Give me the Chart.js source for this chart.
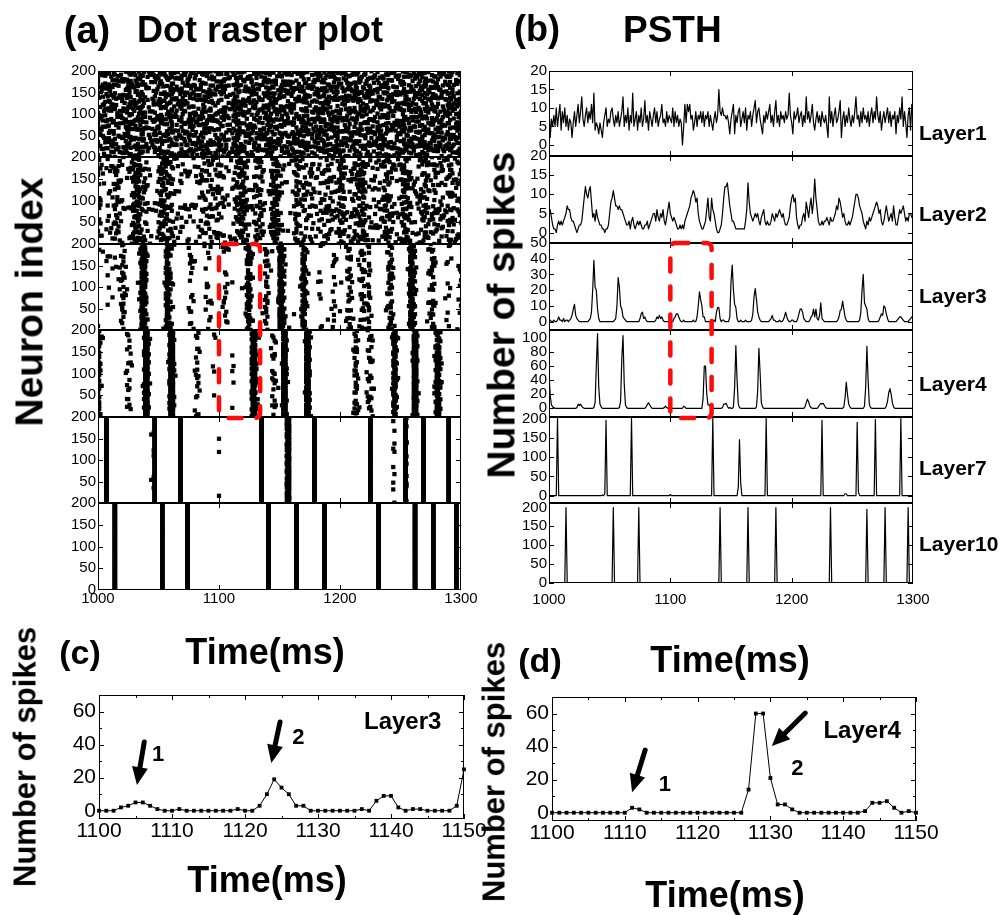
<!DOCTYPE html>
<html>
<head>
<meta charset="utf-8">
<script src="https://cdn.jsdelivr.net/npm/chart.js@4.4.1/dist/chart.umd.min.js"></script>
<style>
  body { margin: 0; background: #fff; }
  #fig { position: relative; width: 1004px; height: 915px; overflow: hidden; font-family: 'Liberation Sans', Arial, sans-serif; }
  #fig canvas { position: absolute; }
  .txt { position: absolute; white-space: nowrap; line-height: 1; font-weight: bold; color: #000; }
</style>
</head>
<body>
<div id="fig"></div>
<script>
// time window (ms), 1 ms bins
const t0 = 1000, t1 = 1300;
const layerNames = ['Layer1', 'Layer2', 'Layer3', 'Layer4', 'Layer7', 'Layer10'];

// PSTH counts, one value per ms from 1000 to 1300
const layer1 = [
  10, 2, 7, 5, 8, 5, 10, 5, 8, 11,   4, 9, 6, 10, 5, 8, 4, 7, 6, 2,
  6, 9, 5, 8, 11, 6, 9, 13, 7, 5,    8, 10, 6, 9, 7, 11, 6, 14, 4, 6,
  5, 3, 6, 4, 2, 6, 8, 10, 5, 7,     6, 9, 10, 7, 5, 8, 6, 9, 5, 7,
  9, 13, 5, 8, 6, 10, 4, 8, 6, 14,   5, 7, 9, 4, 8, 6, 10, 5, 7, 12,
  6, 8, 4, 9, 7, 5, 8, 10, 6, 9,     5, 7, 8, 11, 6, 7, 5, 9, 6, 8,
  7, 6, 10, 5, 9, 6, 8, 5, 7, 6,     0, 5, 11, 6, 11, 9, 11, 7, 8, 4,
  6, 9, 5, 8, 7, 9, 6, 9, 5, 8,      7, 9, 5, 8, 6, 4, 7, 9, 6, 8,
  15, 9, 8, 10, 8, 8, 7, 8, 6, 3,    7, 9, 11, 3, 8, 6, 9, 10, 5, 7,
  9, 6, 10, 4, 8, 7, 9, 5, 8, 10,    12, 6, 9, 10, 7, 5, 3, 8, 6, 9,
  7, 9, 11, 6, 8, 5, 9, 12, 6, 8,    5, 9, 7, 8, 6, 9, 7, 8, 14, 8,
  6, 3, 9, 7, 8, 10, 6, 8, 9, 5,     8, 6, 13, 7, 9, 6, 8, 11, 6, 4,
  7, 9, 6, 8, 5, 9, 7, 6, 8, 5,      2, 13, 6, 9, 5, 8, 10, 6, 7, 9,
  12, 2, 7, 9, 5, 8, 6, 10, 7, 5,    8, 6, 9, 13, 7, 8, 5, 9, 6, 10,
  7, 8, 6, 9, 5, 8, 10, 6, 9, 7,     13, 8, 6, 9, 4, 7, 9, 6, 8, 10,
  6, 9, 5, 8, 7, 9, 3, 8, 6, 10,     7, 13, 5, 9, 6, 2, 8, 10, 4, 11,
  10
];
const layer2 = [
  5, 6, 4, 2, 1, 1, 0, 2, 3, 2,      3, 2, 3, 4, 5, 7, 6, 6, 4, 3,
  3, 2, 1, 0, 1, 2, 2, 3, 6, 9,      12, 10, 9, 11, 12, 8, 4, 5, 3, 6,
  4, 3, 2, 2, 1, 1, 0, 1, 1, 2,      5, 8, 9, 11, 9, 7, 7, 6, 7, 6,
  6, 5, 4, 3, 2, 2, 3, 1, 3, 4,      2, 1, 2, 3, 2, 3, 2, 1, 1, 2,
  2, 3, 1, 2, 3, 4, 5, 5, 3, 6,      4, 3, 5, 4, 6, 3, 2, 4, 6, 8,
  5, 4, 3, 4, 3, 2, 1, 1, 2, 1,      2, 1, 3, 4, 5, 6, 7, 9, 10, 11,
  10, 8, 9, 5, 3, 2, 1, 1, 2, 3,     6, 9, 4, 3, 9, 6, 5, 3, 1, 0,
  0, 1, 2, 5, 9, 12, 12, 13, 10, 7,  5, 3, 3, 2, 1, 1, 1, 1, 1, 1,
  1, 1, 3, 6, 13, 8, 5, 4, 3, 4,     5, 4, 5, 3, 2, 4, 5, 6, 3, 2,
  3, 2, 2, 3, 5, 4, 3, 5, 4, 5,      6, 5, 4, 5, 3, 2, 2, 3, 4, 7,
  9, 10, 8, 9, 4, 2, 1, 2, 2, 4,     5, 3, 8, 6, 4, 7, 9, 5, 8, 14,
  9, 6, 3, 2, 2, 3, 2, 3, 3, 4,      3, 2, 4, 3, 3, 4, 5, 7, 6, 9,
  8, 6, 4, 5, 3, 2, 2, 3, 2, 3,      4, 6, 8, 10, 10, 9, 7, 6, 5, 3,
  2, 1, 3, 2, 4, 3, 4, 5, 6, 7,      8, 7, 5, 6, 3, 2, 3, 5, 7, 5,
  3, 4, 5, 3, 7, 4, 2, 2, 4, 6,      5, 6, 7, 5, 3, 4, 3, 5, 5, 4,
  4
];
// sparse layers: [time, count], every other bin is 0
const layer3Bins = [
  [1000, 1], [1001, 1], [1004, 1], [1007, 1], [1008, 3], [1009, 1], [1010, 1], [1012, 2], [1014, 1], [1015, 1],
  [1017, 1], [1018, 2], [1019, 4], [1020, 8], [1021, 11], [1022, 4], [1023, 2], [1024, 1],
  [1033, 1], [1034, 2], [1035, 6], [1036, 20], [1037, 39], [1038, 22], [1039, 20], [1040, 8], [1041, 2],
  [1054, 1], [1055, 2], [1056, 10], [1057, 28], [1058, 22], [1059, 10], [1060, 8], [1061, 3], [1062, 2], [1063, 1],
  [1075, 2], [1076, 5], [1077, 6], [1078, 2], [1079, 3], [1080, 1],
  [1088, 1], [1089, 3], [1090, 2], [1091, 4], [1092, 2], [1093, 3], [1094, 1],
  [1103, 2], [1104, 3], [1105, 5], [1106, 5], [1107, 3], [1108, 1], [1111, 1], [1119, 1],
  [1122, 3], [1123, 10], [1124, 19], [1125, 14], [1126, 10], [1127, 3], [1128, 3],
  [1136, 1], [1138, 6], [1139, 9], [1140, 9], [1141, 2], [1143, 1], [1144, 1], [1149, 3], [1150, 25],
  [1151, 36], [1152, 20], [1153, 11], [1154, 9], [1155, 2], [1158, 1], [1162, 1],
  [1167, 1], [1168, 5], [1169, 16], [1170, 21], [1171, 14], [1172, 6], [1173, 3], [1174, 1],
  [1182, 1], [1183, 2], [1184, 4], [1185, 1], [1186, 1], [1190, 1],
  [1193, 1], [1194, 3], [1195, 6], [1196, 3], [1197, 1], [1200, 1], [1201, 1],
  [1205, 2], [1206, 5], [1207, 8], [1208, 8], [1209, 6], [1210, 2], [1211, 1],
  [1215, 1], [1216, 3], [1217, 4], [1218, 8], [1219, 3], [1220, 8], [1221, 2], [1222, 1], [1223, 4], [1224, 12], [1225, 2], [1226, 1],
  [1238, 1], [1239, 3], [1240, 7], [1241, 8], [1242, 13], [1243, 8], [1244, 3], [1245, 1],
  [1256, 1], [1257, 6], [1258, 20], [1259, 30], [1260, 12], [1261, 10], [1262, 8], [1263, 2],
  [1272, 1], [1273, 3], [1274, 5], [1275, 4], [1276, 10], [1277, 9], [1278, 5], [1279, 2],
  [1287, 1], [1288, 2], [1289, 3], [1290, 3], [1291, 2], [1292, 1], [1297, 1], [1298, 2], [1299, 3], [1300, 3]
];
const layer4Bins = [
  [1000, 50], [1001, 18], [1002, 5], [1003, 2], [1004, 1],
  [1023, 1], [1024, 6], [1025, 4], [1026, 6], [1027, 3], [1028, 1],
  [1037, 1], [1038, 8], [1039, 60], [1040, 106], [1041, 30], [1042, 6], [1043, 2],
  [1058, 1], [1059, 10], [1060, 70], [1061, 103], [1062, 35], [1063, 5], [1064, 1],
  [1080, 2], [1081, 5], [1082, 8], [1083, 5], [1084, 2], [1095, 1], [1096, 3], [1097, 1],
  [1111, 3], [1112, 2],
  [1127, 14], [1128, 60], [1129, 60], [1130, 21], [1131, 5], [1132, 5], [1133, 2],
  [1143, 1], [1144, 6], [1145, 6], [1146, 7], [1147, 3], [1149, 1],
  [1152, 2], [1153, 30], [1154, 89], [1155, 40], [1156, 6], [1157, 1],
  [1171, 2], [1172, 25], [1173, 85], [1174, 50], [1175, 8], [1176, 2],
  [1211, 2], [1212, 8], [1213, 13], [1214, 9], [1215, 3], [1216, 1],
  [1222, 2], [1223, 5], [1224, 7], [1225, 6], [1226, 7], [1227, 4], [1228, 1],
  [1243, 2], [1244, 15], [1245, 37], [1246, 20], [1247, 6], [1248, 2],
  [1260, 3], [1261, 30], [1262, 88], [1263, 40], [1264, 6], [1265, 1],
  [1278, 3], [1279, 10], [1280, 22], [1281, 28], [1282, 20], [1283, 8], [1284, 2]
];
const layer7Bins = [
  [1007, 200], [1044, 2], [1046, 5], [1047, 195], [1068, 200], [1100, 3], [1135, 200],
  [1156, 22], [1157, 145], [1158, 33], [1179, 200], [1225, 195], [1244, 5], [1245, 5],
  [1254, 190], [1255, 10], [1269, 197], [1290, 200]
];
const layer10Bins = [
  [1014, 200], [1053, 200], [1074, 200], [1141, 200], [1164, 200], [1187, 200],
  [1232, 200], [1262, 195], [1277, 200], [1296, 200]
];

// tick labels
const timeTicks = [1000, 1100, 1200, 1300];
const neuronTicks = [50, 100, 150, 200];
const neuronTicksBottom = [0, 50, 100, 150, 200];
const psthTicks = [[0, 5, 10, 15, 20], [0, 5, 10, 15, 20], [0, 10, 20, 30, 40, 50],
                   [0, 20, 40, 60, 80, 100], [0, 50, 100, 150, 200], [0, 50, 100, 150, 200]];
const psthRanges = [[-3, 20], [-2.7, 20], [-5.3, 50], [-12.3, 111], [-18.9, 203.6], [-1.3, 212]];
const zoomTicksX = [1100, 1110, 1120, 1130, 1140, 1150];
const zoomTicksY = [0, 20, 40, 60];
const zoomSpan = [1100, 1150];
const boxSpan = [1100, 1134];

function fromBins(bins) {
  const a = new Array(t1 - t0 + 1).fill(0);
  bins.forEach(([t, n]) => { a[t - t0] = n; });
  return a;
}
const counts = [layer1, layer2, fromBins(layer3Bins), fromBins(layer4Bins), fromBins(layer7Bins), fromBins(layer10Bins)];

// raster: each 1 ms bin puts `count` dots over neurons 0-200, one dot per equal slice;
// the neuron ids cannot be read off the picture, so the spot inside each slice comes from a fixed hash
function slot(a, b, c) {
  let h = (a * 374761393 + b * 668265263 + c * 1274126177) | 0;
  h = Math.imul(h ^ (h >>> 13), 1274126177);
  h ^= h >>> 16;
  return (h >>> 0) / 4294967296;
}
function rasterDots(cnt, li) {
  const pts = [];
  cnt.forEach((n, i) => {
    for (let k = 0; k < n; k++) {
      pts.push({x: t0 + i, y: (k + slot(i, k, li + 1)) * 200 / n});
    }
  });
  return pts;
}

const fig = document.getElementById('fig');
Chart.defaults.font.family = "'Liberation Sans', Arial, sans-serif";
Chart.defaults.color = '#000';

// box with small inward ticks
const framePlugin = {
  id: 'frame',
  afterDatasetsDraw(chart, args, o) {
    const {ctx, chartArea: a, scales: {x, y}} = chart;
    ctx.save();
    ctx.strokeStyle = '#000';
    ctx.lineWidth = 1;
    ctx.strokeRect(a.left + 0.5, a.top + 0.5, a.right - a.left - 1, a.bottom - a.top - 1);
    ctx.beginPath();
    const xt = (vals, len) => (vals || []).forEach(v => {
      const p = Math.round(x.getPixelForValue(v)) + 0.5;
      ctx.moveTo(p, a.bottom); ctx.lineTo(p, a.bottom - len);
      ctx.moveTo(p, a.top); ctx.lineTo(p, a.top + len);
    });
    const yt = (vals, len) => (vals || []).forEach(v => {
      const p = Math.round(y.getPixelForValue(v)) + 0.5;
      ctx.moveTo(a.left, p); ctx.lineTo(a.left + len, p);
      ctx.moveTo(a.right, p); ctx.lineTo(a.right - len, p);
    });
    xt(o.xMajor, 5); xt(o.xMinor, 3);
    yt(o.yMajor, 5); yt(o.yMinor, 3);
    ctx.stroke();
    ctx.restore();
  }
};

// arrows and labels inside the zoomed panels, placed in data units
const notesPlugin = {
  id: 'notes',
  afterDatasetsDraw(chart, args, o) {
    if (!o.arrows) return;
    const {ctx, scales: {x, y}} = chart;
    ctx.save();
    ctx.fillStyle = '#000';
    ctx.strokeStyle = '#000';
    o.arrows.forEach(([xa, ya, xb, yb]) => {
      const x0 = x.getPixelForValue(xa), y0 = y.getPixelForValue(ya);
      const x1 = x.getPixelForValue(xb), y1 = y.getPixelForValue(yb);
      const L = Math.hypot(x1 - x0, y1 - y0), ux = (x1 - x0) / L, uy = (y1 - y0) / L;
      const hl = 18, hw = 8;
      ctx.lineWidth = 5;
      ctx.lineCap = 'round';
      ctx.beginPath();
      ctx.moveTo(x0, y0);
      ctx.lineTo(x1 - ux * hl * 0.8, y1 - uy * hl * 0.8);
      ctx.stroke();
      ctx.beginPath();
      ctx.moveTo(x1, y1);
      ctx.lineTo(x1 - ux * hl - uy * hw, y1 - uy * hl + ux * hw);
      ctx.lineTo(x1 - ux * hl + uy * hw, y1 - uy * hl - ux * hw);
      ctx.closePath();
      ctx.fill();
    });
    ctx.textAlign = 'center';
    ctx.textBaseline = 'middle';
    o.marks.forEach(([s, xv, yv, size]) => {
      ctx.font = "bold " + size + "px 'Liberation Sans', Arial, sans-serif";
      ctx.fillText(s, x.getPixelForValue(xv), y.getPixelForValue(yv));
    });
    ctx.restore();
  }
};

const YW = 70, PAD = 16, RP = 30;
function makePanel(area, c) {
  const XH = c.showX ? c.xh : 0;
  const cv = document.createElement('canvas');
  cv.width = YW + area.width + RP;
  cv.height = PAD + area.height + XH + PAD;
  cv.style.left = (area.left - YW) + 'px';
  cv.style.top = (area.top - PAD) + 'px';
  fig.appendChild(cv);
  const font = {size: c.font};
  const chart = new Chart(cv, {
    type: 'scatter',
    data: {datasets: c.datasets},
    options: {
      responsive: false,
      animation: false,
      events: [],
      layout: {padding: {left: 0, right: RP, top: PAD, bottom: PAD}},
      plugins: {legend: {display: false}, tooltip: {enabled: false}, frame: c.frame, notes: c.notes || {}},
      scales: {
        x: {
          type: 'linear', min: c.x[0], max: c.x[1], display: c.showX,
          grid: {display: false, drawTicks: false}, border: {display: false},
          ticks: {font, padding: c.xPad, maxRotation: 0, autoSkip: false, callback: v => String(v)},
          afterBuildTicks: s => { s.ticks = c.xTicks.map(v => ({value: v})); },
          afterFit: s => { s.height = XH; s.paddingLeft = 0; s.paddingRight = 0; }
        },
        y: {
          type: 'linear', min: c.y[0], max: c.y[1],
          grid: {display: false, drawTicks: false}, border: {display: false},
          ticks: {font, padding: c.yPad, autoSkip: false, callback: v => String(v)},
          afterBuildTicks: s => { s.ticks = c.yTicks.map(v => ({value: v})); },
          afterFit: s => { s.width = YW; s.paddingTop = 0; s.paddingBottom = 0; }
        }
      }
    },
    plugins: [framePlugin, notesPlugin]
  });
  chart.$off = {left: area.left - YW, top: area.top - PAD};
  return chart;
}

// panel geometry
const rasterTops = [71, 157, 244, 330, 417, 503, 590];
const psthTops = [71, 156, 243, 330, 417, 503, 583];

const rasterCharts = counts.map((cnt, li) => {
  const last = li === counts.length - 1;
  return makePanel({left: 98, top: rasterTops[li], width: 363, height: rasterTops[li + 1] - rasterTops[li]}, {
    x: [t0, t1], xTicks: timeTicks, showX: last, xh: 26, xPad: 0,
    y: [0, 200], yTicks: last ? neuronTicksBottom : neuronTicks, yPad: 2, font: 15,
    frame: {xMajor: [1100, 1200], yMajor: [50, 100, 150]},
    datasets: [{
      data: rasterDots(cnt, li), pointStyle: 'rect', pointRadius: 3.0,
      pointBackgroundColor: '#000', pointBorderWidth: 0, clip: 0
    }]
  });
});

const psthCharts = counts.map((cnt, li) => {
  const last = li === counts.length - 1;
  const tk = psthTicks[li];
  return makePanel({left: 549, top: psthTops[li], width: 364, height: psthTops[li + 1] - psthTops[li]}, {
    x: [t0, t1], xTicks: timeTicks, showX: last, xh: 30, xPad: 8,
    y: psthRanges[li], yTicks: tk, yPad: 2, font: 15,
    frame: {xMajor: [1100, 1200], yMajor: tk.slice(0, -1)},
    datasets: [{
      data: cnt.map((n, i) => ({x: t0 + i, y: n})), showLine: true,
      borderColor: '#000', borderWidth: 1.2, borderJoinStyle: 'round', pointRadius: 0, clip: 0
    }]
  });
});

// zoomed PSTH of layers 3 and 4, 1100-1150 ms
const zoomNotes = [
  {arrows: [[1106.2, 41.6, 1105.2, 15.5], [1124.8, 53.7, 1123.6, 28.9]],
   marks: [['1', 1108.1, 33.7, 22], ['2', 1127.3, 44, 22], ['Layer3', 1141.6, 53.7, 24]]},
  {arrows: [[1112.8, 37.9, 1111.0, 12.4], [1134.8, 60.3, 1130.2, 40.3]],
   marks: [['1', 1115.5, 16.7, 22], ['2', 1133.7, 26.4, 22], ['Layer4', 1142.6, 49.4, 24]]}
];
const zoomAreas = [{left: 99, top: 695, width: 365, height: 124}, {left: 552, top: 697, width: 364, height: 124}];
[2, 3].forEach((li, j) => {
  const pts = [];
  for (let t = zoomSpan[0]; t <= zoomSpan[1]; t++) pts.push({x: t, y: counts[li][t - t0]});
  makePanel(zoomAreas[j], {
    x: zoomSpan, xTicks: zoomTicksX, showX: true, xh: 30, xPad: 0,
    y: [-5, 70], yTicks: zoomTicksY, yPad: 3, font: 21,
    frame: {xMajor: zoomTicksX, xMinor: [1105, 1115, 1125, 1135, 1145], yMajor: [20, 40, 60], yMinor: [10, 30, 50]},
    notes: zoomNotes[j],
    datasets: [{
      data: pts, showLine: true, borderColor: '#000', borderWidth: 1,
      pointStyle: 'rect', pointRadius: 2.7, pointBackgroundColor: '#000', pointBorderWidth: 0, clip: 4
    }]
  });
});

// red dashed boxes over layers 3-4
const ov = document.createElement('canvas');
ov.width = 1004; ov.height = 915;
ov.style.left = '0px'; ov.style.top = '0px';
fig.appendChild(ov);
const g = ov.getContext('2d');
g.strokeStyle = 'rgb(255,10,10)';
g.lineWidth = 4.5;
g.lineCap = 'round';
g.lineJoin = 'round';
g.setLineDash([13, 15]);
[rasterCharts, psthCharts].forEach(list => {
  const a = list[2], b = list[3];
  const xl = a.$off.left + a.scales.x.getPixelForValue(boxSpan[0]);
  const xr = a.$off.left + a.scales.x.getPixelForValue(boxSpan[1]);
  const yt = a.$off.top + a.chartArea.top;
  const yb = b.$off.top + b.chartArea.bottom + 1;
  g.beginPath();
  g.roundRect(xl, yt, xr - xl, yb - yt, 5);
  g.stroke();
});

// free text
function addText(s, x, y, size, mode) {
  const d = document.createElement('div');
  d.className = 'txt';
  d.textContent = s;
  d.style.left = x + 'px';
  d.style.top = y + 'px';
  d.style.fontSize = size + 'px';
  d.style.transform = mode === 'rot' ? 'translate(-50%,-50%) rotate(-90deg)'
    : mode === 'left' ? 'translateY(-50%)' : 'translate(-50%,-50%)';
  fig.appendChild(d);
}
addText('(a)', 87, 30, 38);
addText('Dot raster plot', 137, 30, 36, 'left');
addText('(b)', 537, 29, 36);
addText('PSTH', 623, 29, 37, 'left');
addText('Neuron index', 29, 302, 39, 'rot');
addText('Number of spikes', 501, 315, 39, 'rot');
const layerLabelY = [131.7, 213.3, 295, 383.3, 466.7, 543.3];
layerNames.forEach((s, i) => addText(s, 919, layerLabelY[i], 21, 'left'));
addText('(c)', 80, 652, 34);
addText('Time(ms)', 265, 652, 36);
addText('Time(ms)', 267, 880, 36);
addText('Number of spikes', 25, 757, 31, 'rot');
addText('(d)', 540, 660, 34);
addText('Time(ms)', 730, 660, 36);
addText('Time(ms)', 725, 895, 36);
addText('Number of spikes', 494, 772, 31, 'rot');
</script>
</body>
</html>
